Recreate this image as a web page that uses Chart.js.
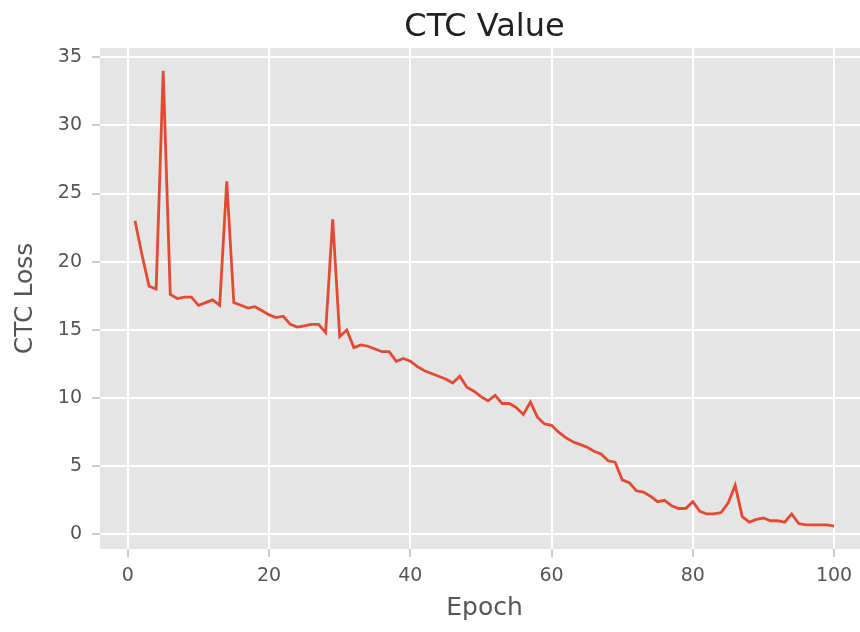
<!DOCTYPE html><html lang="en">
<head>
    <meta charset="UTF-8">
    <title>CTC Value</title>
    <script src="https://cdn.jsdelivr.net/npm/chart.js"></script>
    <style>
        body { margin: 0; width: 860px; height: 632px; overflow: hidden; background: #fff; }
        #wrap { width: 869px; height: 632px; }
    </style>
</head>
<body>
    <div id="wrap"><canvas id="ctcChart" width="869" height="632"></canvas></div>
<script>
    // values, one per epoch
    const ctcLoss = [
        23.0, 20.5, 18.2, 18.0, 34.0, 17.6, 17.3, 17.4, 17.4, 16.8,
        17.0, 17.2, 16.8, 25.9, 17.0, 16.8, 16.6, 16.7, 16.4, 16.1,
        15.9, 16.0, 15.4, 15.2, 15.3, 15.4, 15.4, 14.8, 23.1, 14.5,
        15.0, 13.7, 13.9, 13.8, 13.6, 13.4, 13.4, 12.7, 12.9, 12.7,
        12.3, 12.0, 11.8, 11.6, 11.4, 11.1, 11.6, 10.8, 10.5, 10.1,
        9.8, 10.2, 9.6, 9.6, 9.3, 8.8, 9.7, 8.6, 8.1, 8.0,
        7.5, 7.1, 6.8, 6.6, 6.4, 6.1, 5.9, 5.4, 5.3, 4.0,
        3.8, 3.2, 3.1, 2.8, 2.4, 2.5, 2.1, 1.9, 1.9, 2.4,
        1.7, 1.5, 1.5, 1.6, 2.3, 3.6, 1.3, 0.9, 1.1, 1.2,
        1.0, 1.0, 0.9, 1.5, 0.8, 0.7, 0.7, 0.7, 0.7, 0.6
    ];
    const epochs = ctcLoss.map((v, i) => i + 1);
    const xTicks = [0, 20, 40, 60, 80, 100];
    const yTicks = [0, 5, 10, 15, 20, 25, 30, 35];

    const font = "'DejaVu Sans', sans-serif";

    // ggplot style grey panel behind the plot
    const panelBg = {
        id: "panelBg",
        beforeDraw(chart) {
            const { ctx, chartArea: a } = chart;
            ctx.save();
            ctx.fillStyle = "#e5e5e5";
            ctx.fillRect(a.left, a.top, a.right - a.left, a.bottom - a.top);
            ctx.restore();
        }
    };

    const gridOpts = {
        color: "#ffffff",
        lineWidth: 2,
        tickColor: "#9a9a9a",
        tickLength: 8,
        tickWidth: 1
    };
    const tickFont = { family: font, size: 19 };

    // the original figure is a bit wider than the crop, the panel runs past the right edge
    new Chart(document.getElementById("ctcChart"), {
        type: "line",
        data: {
            datasets: [{
                data: epochs.map((e, i) => ({ x: e, y: ctcLoss[i] })),
                borderColor: "#e24a33",
                borderWidth: 2.8,
                pointRadius: 0,
                tension: 0,
                fill: false
            }]
        },
        options: {
            responsive: false,
            animation: false,
            layout: { padding: 0 },
            plugins: {
                legend: { display: false },
                tooltip: { enabled: false },
                title: {
                    display: true,
                    fullSize: false,
                    text: "CTC Value",
                    color: "#222",
                    font: { family: font, size: 32, weight: "normal" },
                    padding: { top: 8, bottom: 1.6 }
                }
            },
            scales: {
                x: {
                    type: "linear",
                    min: -3.95,
                    max: 104.95,
                    border: { display: false },
                    grid: gridOpts,
                    afterBuildTicks: axis => { axis.ticks = xTicks.map(v => ({ value: v })); },
                    afterFit: axis => { axis.height = 83; },
                    ticks: { color: "#555", font: tickFont, padding: 8, maxRotation: 0 },
                    title: {
                        display: true,
                        text: "Epoch",
                        color: "#555",
                        font: { family: font, size: 25 },
                        padding: { top: 0, bottom: 9 }
                    }
                },
                y: {
                    min: -1.07,
                    max: 35.67,
                    border: { display: false },
                    grid: gridOpts,
                    afterBuildTicks: axis => { axis.ticks = yTicks.map(v => ({ value: v })); },
                    afterFit: axis => { axis.width = 100; },
                    ticks: { color: "#555", font: tickFont, padding: 10 },
                    title: {
                        display: true,
                        text: "CTC Loss",
                        color: "#555",
                        font: { family: font, size: 25 },
                        padding: { top: 10, bottom: 0 }
                    }
                }
            }
        },
        plugins: [panelBg]
    });
</script>
</body>
</html>
